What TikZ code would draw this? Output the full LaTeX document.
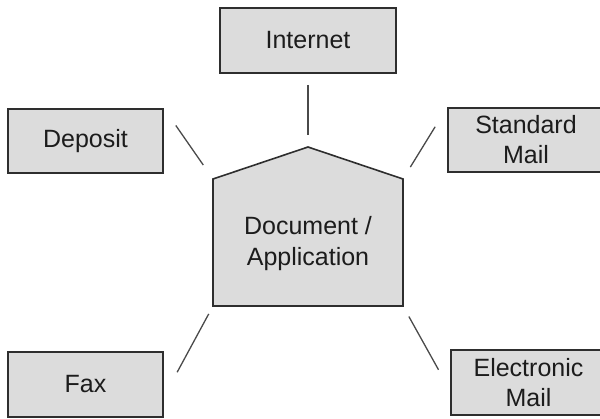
\documentclass[tikz,border=0pt]{standalone}
\usepackage{fontspec}
\setmainfont{Liberation Sans}
\definecolor{boxfill}{HTML}{DCDCDC}
\definecolor{boxline}{HTML}{2E2E2E}
\definecolor{linkcol}{HTML}{4A4A4A}
\definecolor{textcol}{HTML}{1C1C1C}
\begin{document}
\begin{tikzpicture}[x=1pt,y=-1pt,
		box/.style={draw=boxline,fill=boxfill,line width=1.6pt,inner sep=0pt,align=center,text=textcol,font=\fontsize{25}{30}\selectfont,minimum width=155pt,minimum height=65pt},
		link/.style={draw=linkcol,line width=1.3pt}]
		\useasboundingbox (0,0) rectangle (600,419);
		\clip (0,0) rectangle (600,419);
		% house shape in the middle
		\coordinate (roof) at (308,147);
		\coordinate (tl) at (213,179);
		\coordinate (tr) at (403,179);
		\coordinate (br) at (403,306);
		\coordinate (bl) at (213,306);
		\draw[draw=boxline,fill=boxfill,line width=1.6pt](bl)--(tl)--(roof)--(tr)--(br)--cycle;
		\node[align=center,text=textcol,font=\fontsize{25}{31}\selectfont] (doc) at (308,244) {Document /\\Application};
		% channels
		\node[box,minimum width=176pt] (internet) at (308,40.5) {Internet};
		\node[box,minimum height=64pt] (deposit) at (85.5,141) {Deposit};
		\node[box,minimum width=156pt,minimum height=64pt] (stdmail) at (526,140) {Standard\\Mail};
		\node[box] (fax) at (85.5,384.5) {Fax};
		\node[box] (email) at (528.5,382.5) {Electronic\\Mail};
		% connectors
		\draw[link,shorten <=11pt,shorten >=12pt](internet.south)--(roof);
		\draw[link,shorten <=21pt,shorten >=17pt](deposit.north east)--(tl);
		\draw[link,shorten <=14pt,shorten >=23pt](tr)--(stdmail.north west);
		\draw[link,shorten <=9pt,shorten >=28pt](bl)--(fax.-9);
		\draw[link,shorten <=12pt,shorten >=24pt](br)--(email.186);
	\end{tikzpicture}
\end{document}
